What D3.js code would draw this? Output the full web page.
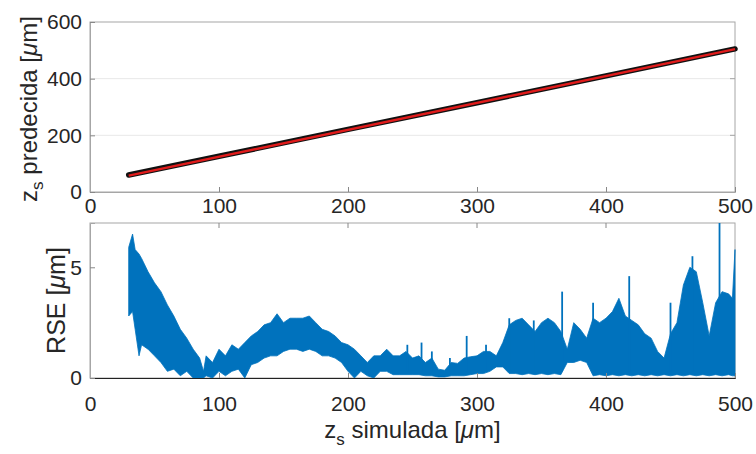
<!DOCTYPE html>
<html>
<head>
<meta charset="utf-8">
<script src="https://cdn.jsdelivr.net/npm/d3@7"></script>
<style>
  body { margin: 0; background: #fff; }
  svg { display: block; font-family: "Liberation Sans", Arial, sans-serif; }
</style>
</head>
<body>
<svg id="chart" width="756" height="454"></svg>
<script>
// ---- Data ----
const xTicks = [0, 100, 200, 300, 400, 500];
const yTicksTop = [0, 200, 400, 600];
const yTicksBottom = [0, 5];

// Top panel: predicted vs simulated z_s
const predSim = [30, 100, 200, 300, 400, 500];
const predVal = [60, 126, 221, 315, 410, 505];
const fitSim = [30, 500];
const fitVal = [58, 504];

// Bottom panel: RSE band (upper / lower envelope of dense signal)
const rseX = [30, 33, 35, 38, 40, 45, 50, 55, 60, 65, 70, 75, 80, 85, 88, 90, 95, 100, 105, 110, 115, 120, 125, 130, 135, 140, 145, 150, 155, 160, 165, 170, 175, 180, 185, 190, 195, 200, 205, 210, 215, 220, 225, 230, 235, 240, 245, 250, 255, 260, 265, 270, 275, 280, 285, 290, 295, 300, 305, 310, 315, 320, 325, 330, 335, 340, 345, 350, 355, 360, 365, 370, 375, 380, 385, 390, 395, 400, 405, 410, 415, 420, 425, 430, 435, 440, 445, 450, 455, 460, 465, 470, 475, 480, 485, 490, 495, 498, 500];
const rseUpper = [5.9, 6.5, 5.8, 5.6, 5.4, 4.8, 4.3, 3.9, 3.3, 2.8, 2.2, 1.8, 1.3, 0.9, 0.3, 1.0, 0.7, 1.3, 1.0, 1.5, 1.3, 1.6, 1.9, 2.1, 2.4, 2.5, 2.9, 2.5, 2.7, 2.7, 2.7, 2.8, 2.5, 2.2, 2.1, 1.9, 1.6, 1.5, 1.3, 1.0, 0.7, 1.0, 1.0, 1.3, 1.0, 1.0, 1.2, 0.9, 1.0, 0.7, 0.9, 0.4, 0.35, 0.7, 0.66, 0.9, 0.96, 1.0, 1.2, 1.2, 1.0, 1.6, 2.4, 2.6, 2.7, 2.4, 2.1, 2.5, 2.7, 2.5, 2.1, 1.3, 2.5, 2.2, 1.8, 2.7, 2.5, 2.7, 3.0, 3.6, 2.8, 2.6, 2.4, 2.0, 1.8, 1.2, 0.9, 2.0, 2.5, 4.2, 5.0, 4.8, 3.4, 1.9, 3.4, 3.9, 3.8, 3.6, 5.8];
const rseLower = [2.8, 3.0, 2.2, 1.0, 1.5, 1.3, 1.0, 0.7, 0.3, 0.4, 0.1, 0.3, 0.0, 0.0, 0.0, 0.1, 0.0, 0.3, 0.1, 0.3, 0.4, 0.0, 0.6, 0.7, 0.9, 1.0, 1.0, 1.2, 1.3, 1.3, 1.2, 1.3, 1.2, 1.0, 1.0, 0.9, 0.7, 0.3, 0.0, 0.3, 0.1, 0.0, 0.3, 0.3, 0.15, 0.15, 0.15, 0.15, 0.15, 0.1, 0.1, 0.05, 0.05, 0.1, 0.1, 0.1, 0.15, 0.2, 0.2, 0.3, 0.5, 0.5, 0.2, 0.2, 0.15, 0.2, 0.15, 0.2, 0.15, 0.2, 0.15, 0.7, 0.7, 0.8, 0.7, 0.1, 0.15, 0.1, 0.15, 0.1, 0.15, 0.1, 0.15, 0.1, 0.15, 0.1, 0.15, 0.1, 0.15, 0.1, 0.15, 0.1, 0.15, 0.1, 0.15, 0.1, 0.15, 0.1, 0.1];
// isolated spikes in the RSE signal: [x, peak]
const spikeX = [246, 257, 265, 279, 292, 307, 325, 344, 366, 390, 418, 450, 467, 488];
const spikeTop = [1.5, 1.6, 1.2, 0.9, 1.9, 1.5, 2.7, 2.6, 3.9, 3.4, 4.6, 3.4, 5.5, 7.0];

// ---- Layout ----
const svg = d3.select("#chart");
const L = 90, R = 735;
const T1 = 22, B1 = 192;
const T2 = 223, B2 = 378;
const boxColor = "#a6a6a6";
const textColor = "#262626";
const blue = "#0072BD";

const x = d3.scaleLinear().domain([0, 500]).range([L, R]);
const y1 = d3.scaleLinear().domain([0, 600]).range([B1, T1]);
const y2 = d3.scaleLinear().domain([0, 7]).range([B2, T2]);

// ---------- TOP PANEL ----------
const g1 = svg.append("g");
g1.selectAll("line.grid").data([200, 400]).enter().append("line")
  .attr("x1", L).attr("x2", R).attr("y1", d => y1(d)).attr("y2", d => y1(d))
  .attr("stroke", "#e8e8e8").attr("stroke-width", 1);

g1.append("rect").attr("x", L).attr("y", T1).attr("width", R - L).attr("height", B1 - T1)
  .attr("fill", "none").attr("stroke", boxColor).attr("stroke-width", 1);

g1.selectAll("line.rt").data([200, 400]).enter().append("line")
  .attr("x1", R - 5).attr("x2", R).attr("y1", d => y1(d)).attr("y2", d => y1(d))
  .attr("stroke", boxColor);

const ax1 = g1.append("g").attr("transform", `translate(0,${B1})`)
  .call(d3.axisBottom(x).tickValues(xTicks).tickSize(-5).tickFormat(d3.format("d")));
ax1.selectAll("text").attr("y", 21).attr("dy", null);
const ay1 = g1.append("g").attr("transform", `translate(${L},0)`)
  .call(d3.axisLeft(y1).tickValues(yTicksTop).tickSize(-5).tickFormat(d3.format("d")));
ay1.selectAll("text").attr("x", -8);

const line1 = d3.line().x(d => x(d[0])).y(d => y1(d[1]));
g1.append("path").datum(predSim.map((v, i) => [v, predVal[i]]))
  .attr("d", line1).attr("fill", "none").attr("stroke", "#111").attr("stroke-width", 5.5)
  .attr("stroke-linecap", "round");
g1.append("path").datum(fitSim.map((v, i) => [v, fitVal[i]]))
  .attr("d", line1).attr("fill", "none").attr("stroke", "#e01b1b").attr("stroke-width", 2.4);

g1.append("text").attr("transform", `translate(37,${(T1 + B1) / 2 + 2}) rotate(-90)`)
  .attr("text-anchor", "middle").attr("font-size", 24).attr("fill", textColor)
  .call(t => {
    t.append("tspan").text("z");
    t.append("tspan").attr("font-size", 17).attr("dy", 6).text("s");
    t.append("tspan").attr("dy", -6).text(" predecida [");
    t.append("tspan").attr("font-style", "italic").text("μ");
    t.append("tspan").text("m]");
  });

// ---------- BOTTOM PANEL ----------
const g2 = svg.append("g");
g2.append("rect").attr("x", L).attr("y", T2).attr("width", R - L).attr("height", B2 - T2)
  .attr("fill", "none").attr("stroke", boxColor).attr("stroke-width", 1);

g2.selectAll("line.tt").data([100, 200, 300, 400]).enter().append("line")
  .attr("x1", d => x(d)).attr("x2", d => x(d)).attr("y1", T2).attr("y2", T2 + 5)
  .attr("stroke", "#888");

const band = rseX.map((v, i) => ({ x: v, lo: rseLower[i], hi: rseUpper[i] }));
g2.append("path").datum(band)
  .attr("d", d3.area().x(d => x(d.x)).y0(d => y2(d.lo)).y1(d => y2(d.hi)))
  .attr("fill", blue).attr("stroke", blue).attr("stroke-width", 0.8);
g2.selectAll("line.spike").data(spikeX.map((v, i) => [v, spikeTop[i]])).enter().append("line")
  .attr("x1", d => x(d[0])).attr("x2", d => x(d[0]))
  .attr("y1", y2(0.3)).attr("y2", d => y2(d[1]))
  .attr("stroke", blue).attr("stroke-width", 1.8);

const ax2 = g2.append("g").attr("transform", `translate(0,${B2})`)
  .call(d3.axisBottom(x).tickValues(xTicks).tickSize(-5).tickFormat(d3.format("d")));
ax2.selectAll("text").attr("y", 33).attr("dy", null);
ax2.select(".domain").attr("stroke", "#222");
const ay2 = g2.append("g").attr("transform", `translate(${L},0)`)
  .call(d3.axisLeft(y2).tickValues(yTicksBottom).tickSize(-5).tickFormat(d3.format("d")));
ay2.selectAll("text").attr("x", -8);

g2.append("text").attr("transform", `translate(65,${(T2 + B2) / 2}) rotate(-90)`)
  .attr("text-anchor", "middle").attr("font-size", 25).attr("fill", textColor)
  .call(t => {
    t.append("tspan").text("RSE [");
    t.append("tspan").attr("font-style", "italic").text("μ");
    t.append("tspan").text("m]");
  });
g2.append("text").attr("x", (L + R) / 2).attr("y", 438)
  .attr("text-anchor", "middle").attr("font-size", 24).attr("fill", textColor)
  .call(t => {
    t.append("tspan").text("z");
    t.append("tspan").attr("font-size", 17).attr("dy", 7).text("s");
    t.append("tspan").attr("dy", -7).text(" simulada [");
    t.append("tspan").attr("font-style", "italic").text("μ");
    t.append("tspan").text("m]");
  });

svg.selectAll(".tick text").attr("font-size", 21).attr("fill", textColor)
  .attr("font-family", "'Liberation Sans', Arial, sans-serif");
svg.selectAll(".tick line").attr("stroke", "#888");
ax1.select(".domain").attr("stroke", boxColor);
ay1.select(".domain").attr("stroke", boxColor);
ay2.select(".domain").attr("stroke", boxColor);
</script>
</body>
</html>
